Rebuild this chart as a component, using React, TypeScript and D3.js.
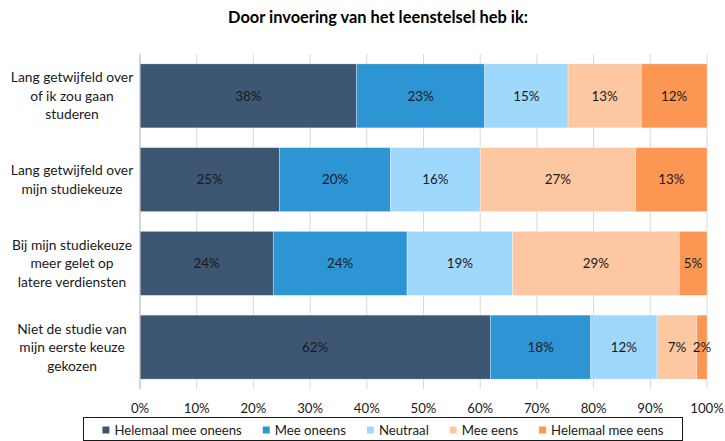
import React, { useEffect, useRef } from 'react';
import * as d3 from 'd3';

const categories = [
  ['Lang getwijfeld over', 'of ik zou gaan', 'studeren'],
  ['Lang getwijfeld over', 'mijn studiekeuze'],
  ['Bij mijn studiekeuze', 'meer gelet op', 'latere verdiensten'],
  ['Niet de studie van', 'mijn eerste keuze', 'gekozen'],
];

const seriesNames = ['Helemaal mee oneens', 'Mee oneens', 'Neutraal', 'Mee eens', 'Helemaal mee eens'];
const seriesColors = ['#3d5674', '#2e95d4', '#9ed8fc', '#fdc7a2', '#fb9753'];

// percentages per category, in series order
const helemaalOneens = [38.2, 24.6, 23.5, 61.8];
const meeOneens = [22.6, 19.6, 23.6, 17.7];
const neutraal = [14.7, 15.8, 18.6, 11.7];
const meeEens = [12.9, 27.4, 29.4, 7.0];
const helemaalEens = [11.6, 12.6, 4.9, 1.8];

const tickValues = [0, 10, 20, 30, 40, 50, 60, 70, 80, 90, 100];

const FONT = 'Lato, "Open Sans", sans-serif';

const App: React.FC = () => {
  const svgRef = useRef<SVGSVGElement>(null);

  useEffect(() => {
    if (!svgRef.current) return;
    const width = 725;
    const height = 441;
    const margin = { top: 54, right: 18, bottom: 52, left: 140 };

    const svg = d3.select(svgRef.current);
    svg.selectAll('*').remove();

    const rows = categories.map((c, i) => ({
      idx: i,
      values: [helemaalOneens[i], meeOneens[i], neutraal[i], meeEens[i], helemaalEens[i]],
    }));

    const x = d3.scaleLinear().domain([0, 100]).range([margin.left, width - margin.right]);
    const y = d3.scaleBand<number>()
      .domain(categories.map((_, i) => i))
      .range([margin.top, height - margin.bottom])
      .paddingInner(0.236)
      .paddingOuter(0.118);

    // title
    svg.append('text')
      .attr('x', 378)
      .attr('y', 23)
      .attr('text-anchor', 'middle')
      .attr('font-family', FONT)
      .attr('font-size', 16.4)
      .attr('font-weight', 'bold')
      .attr('fill', '#000')
      .text('Door invoering van het leenstelsel heb ik:');

    // gridlines
    svg.append('g')
      .selectAll('line')
      .data(tickValues)
      .join('line')
      .attr('x1', d => x(d))
      .attr('x2', d => x(d))
      .attr('y1', margin.top)
      .attr('y2', height - margin.bottom)
      .attr('stroke', '#d9d9d9')
      .attr('stroke-width', 1);

    // bars
    const stackData = rows.map(r => {
      let acc = 0;
      return r.values.map((v, k) => {
        const seg = { row: r.idx, k, x0: acc, x1: acc + v, v };
        acc += v;
        return seg;
      });
    }).flat();

    const bars = svg.append('g');
    bars.selectAll('rect')
      .data(stackData)
      .join('rect')
      .attr('x', d => x(d.x0))
      .attr('y', d => y(d.row)!)
      .attr('width', d => x(d.x1) - x(d.x0))
      .attr('height', y.bandwidth())
      .attr('fill', d => seriesColors[d.k])
      .attr('stroke', '#ffffff')
      .attr('stroke-opacity', 0.5)
      .attr('stroke-width', 0.6);

    bars.selectAll('text')
      .data(stackData)
      .join('text')
      .attr('x', d => (x(d.x0) + x(d.x1)) / 2)
      .attr('y', d => y(d.row)! + y.bandwidth() / 2)
      .attr('dy', '0.36em')
      .attr('text-anchor', 'middle')
      .attr('font-family', FONT)
      .attr('font-size', 13.4)
      .attr('fill', '#1a1a1a')
      .text(d => `${Math.round(d.v)}%`);

    // vertical axis line
    svg.append('line')
      .attr('x1', x(0))
      .attr('x2', x(0))
      .attr('y1', margin.top)
      .attr('y2', height - margin.bottom)
      .attr('stroke', '#bfbfbf');

    // category labels
    const catG = svg.append('g');
    categories.forEach((lines, i) => {
      const cy = y(i)! + y.bandwidth() / 2;
      const lh = 18.5;
      const t = catG.append('text')
        .attr('text-anchor', 'middle')
        .attr('font-family', FONT)
        .attr('font-size', 13.8)
        .attr('fill', '#1a1a1a');
      lines.forEach((ln, j) => {
        t.append('tspan')
          .attr('x', 72)
          .attr('y', cy + (j - (lines.length - 1) / 2) * lh)
          .attr('dy', '0.36em')
          .text(ln);
      });
    });

    // x tick labels
    svg.append('g')
      .selectAll('text')
      .data(tickValues)
      .join('text')
      .attr('x', d => x(d))
      .attr('y', 408)
      .attr('dy', '0.36em')
      .attr('text-anchor', 'middle')
      .attr('font-family', FONT)
      .attr('font-size', 13.2)
      .attr('fill', '#1a1a1a')
      .text(d => `${d}%`);

    // legend
    const legendBox = { x0: 83.5, x1: 682.5, y0: 417.5, y1: 440.5 };
    svg.append('rect')
      .attr('x', legendBox.x0)
      .attr('y', legendBox.y0)
      .attr('width', legendBox.x1 - legendBox.x0)
      .attr('height', legendBox.y1 - legendBox.y0)
      .attr('fill', 'none')
      .attr('stroke', '#1a1a1a')
      .attr('stroke-width', 1);

    const lg = svg.append('g');
    const ly = 430;
    const sq = 7;
    const gapSq = 5;
    const gapItem = 21;
    const items = seriesNames.map((name, k) => {
      const g = lg.append('g');
      g.append('rect')
        .attr('y', ly - sq / 2)
        .attr('width', sq)
        .attr('height', sq)
        .attr('fill', seriesColors[k]);
      const t = g.append('text')
        .attr('x', sq + gapSq)
        .attr('y', ly)
        .attr('dy', '0.36em')
        .attr('font-family', FONT)
        .attr('font-size', 13.2)
        .attr('fill', '#1a1a1a')
        .text(name);
      const w = (t.node() as SVGTextElement).getComputedTextLength();
      return { g, w: sq + gapSq + w };
    });
    const total = d3.sum(items, d => d.w) + gapItem * (items.length - 1);
    let cx = (legendBox.x0 + legendBox.x1) / 2 - total / 2;
    items.forEach(it => {
      it.g.attr('transform', `translate(${cx},0)`);
      cx += it.w + gapItem;
    });
  }, []);

  return (
    <div style={{ position: 'absolute', left: 0, top: 0, width: 725, height: 441, background: '#fff' }}>
      <svg ref={svgRef} width={725} height={441} style={{ display: 'block' }} />
    </div>
  );
};

export default App;
